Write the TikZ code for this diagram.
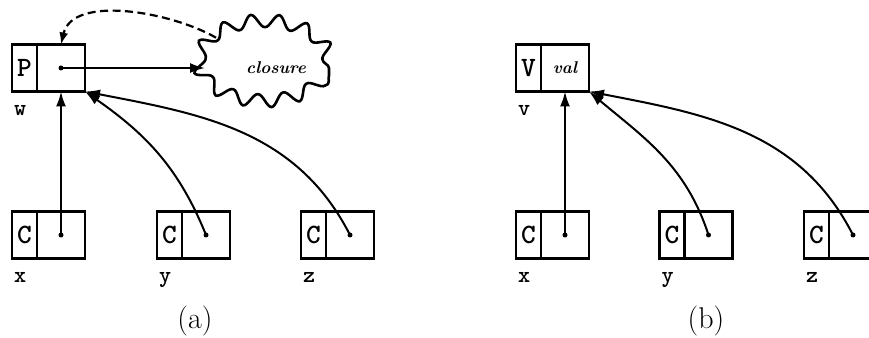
\documentclass[tikz,border=0pt]{standalone}
\usepackage{fontspec}
\usetikzlibrary{arrows.meta,shapes.geometric,decorations.pathmorphing}
\begin{document}
\begin{tikzpicture}[x=1pt,y=1pt,
 cell/.style={draw, line width=2.2pt, rectangle, inner sep=0pt, outer sep=0pt, minimum height=47pt},
 tagcell/.style={cell, minimum width=25pt, font=\fontsize{28}{28}\selectfont\ttfamily\bfseries},
 valcell/.style={cell, minimum width=48pt, anchor=west},
 lab/.style={anchor=north west, inner sep=0pt, font=\fontsize{23}{23}\selectfont\ttfamily\bfseries},
 dot/.style={circle, fill, inner sep=0pt, minimum size=5pt},
 ptr/.style={line width=2pt, -{Latex[length=15pt,width=10pt]}},
 backptr/.style={line width=2.2pt, dash pattern=on 8pt off 4.5pt, -{Latex[length=12pt,width=9pt]}},
 cloudsh/.style={ellipse, draw, line width=2.6pt, minimum width=130pt, minimum height=80pt,
   inner sep=0pt, outer sep=0pt, decorate, decoration={snake, amplitude=6.5pt, segment length=27pt},
   font=\fontsize{17}{17}\selectfont\bfseries\itshape},
 captxt/.style={font=\fontsize{30}{30}\selectfont}
]
\useasboundingbox (0,0) rectangle (869,337);

% ---------- (a) ----------
\node[tagcell] (wP) at (24.5,269) {P};
\node[valcell] (wV) at (wP.east) {};
\node[lab] (lw) at ([xshift=2pt,yshift=-14pt]wP.south west) {w};

\node[cloudsh] (cl) at (264,269) {\hspace*{24pt}closure};

\node[tagcell] (xC) at (24.5,102) {C};
\node[valcell] (xV) at (xC.east) {};
\node[lab] (lx) at ([xshift=2pt,yshift=-14pt]xC.south west) {x};
\node[tagcell] (yC) at (169.5,102) {C};
\node[valcell] (yV) at (yC.east) {};
\node[lab] (ly) at ([xshift=2pt,yshift=-14pt]yC.south west) {y};
\node[tagcell] (zC) at (313.5,102) {C};
\node[valcell] (zV) at (zC.east) {};
\node[lab] (lz) at ([xshift=2pt,yshift=-14pt]zC.south west) {z};

\node[dot] (dw) at (wV.center) {};
\node[dot] (dx) at (xV.center) {};
\node[dot] (dy) at (yV.center) {};
\node[dot] (dz) at (zV.center) {};

\draw[ptr] (dw.center) -- ([xshift=6pt]cl.west);
\draw[backptr] ([xshift=-2pt,yshift=2pt]cl.north west) to[out=150, in=77, looseness=0.85] (wV.north);
\draw[ptr] (dx.center) -- (wV.south);
\draw[ptr] (dy.center) to[out=112, in=-35] (wV.south east);
\draw[ptr] (dz.center) to[out=117, in=-11] (wV.south east);

\node[captxt] (ca) at (195,16) {(a)};

% ---------- (b) ----------
\node[tagcell] (vV0) at (528.5,269) {V};
\node[valcell, font=\fontsize{17}{17}\selectfont\bfseries\itshape] (vV) at (vV0.east) {val};
\node[lab] (lv) at ([xshift=2pt,yshift=-14pt]vV0.south west) {v};

\node[tagcell] (bxC) at (528.5,102) {C};
\node[valcell] (bxV) at (bxC.east) {};
\node[lab] (blx) at ([xshift=2pt,yshift=-14pt]bxC.south west) {x};
\node[tagcell] (byC) at (672,102) {C};
\node[valcell] (byV) at (byC.east) {};
\node[lab] (bly) at ([xshift=2pt,yshift=-14pt]byC.south west) {y};
\node[tagcell] (bzC) at (816.5,102) {C};
\node[valcell] (bzV) at (bzC.east) {};
\node[lab] (blz) at ([xshift=2pt,yshift=-14pt]bzC.south west) {z};

\node[dot] (bdx) at (bxV.center) {};
\node[dot] (bdy) at (byV.center) {};
\node[dot] (bdz) at (bzV.center) {};

\draw[ptr] (bdx.center) -- (vV.south);
\draw[ptr] (bdy.center) to[out=108, in=-40] (vV.south east);
\draw[ptr] (bdz.center) to[out=117, in=-11] (vV.south east);

\node[captxt] (cb) at (706,16) {(b)};
\end{tikzpicture}
\end{document}
